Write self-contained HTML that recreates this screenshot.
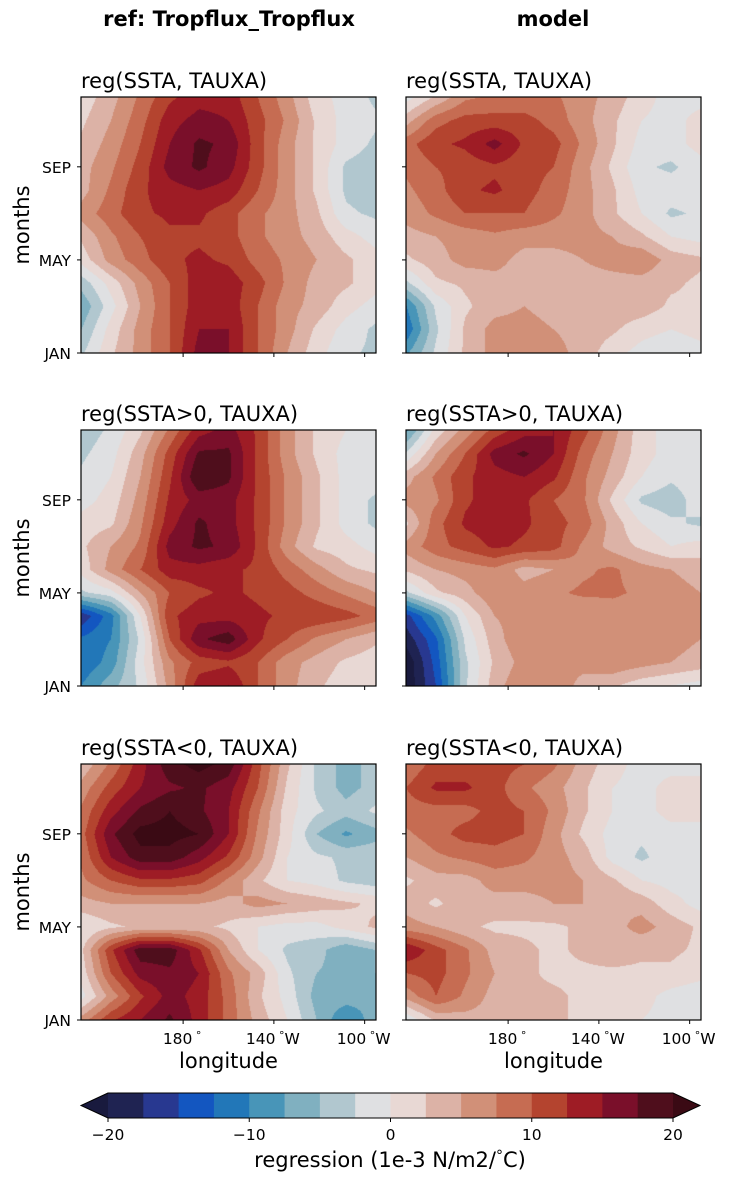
<!DOCTYPE html>
<html><head><meta charset="utf-8">
<style>
body{margin:0;background:#fff;font-family:"DejaVu Sans","Liberation Sans",sans-serif;}
#fig{position:relative;width:731px;height:1181px;overflow:hidden;background:#fff;}
canvas{position:absolute;}
</style></head><body>
<div id="fig">
<svg id="ax" width="731" height="1181" style="position:absolute;left:0;top:0;z-index:2"></svg>
</div>
<script>
const levels=[-20,-17.5,-15,-12.5,-10,-7.5,-5,-2.5,0,2.5,5,7.5,10,12.5,15,17.5,20];
const colors=["#1f2352","#283890","#1356c0","#2277b8","#4895b8","#80b0c0","#b1c7cf","#dfe0e2","#e8d8d4","#dcb2a6","#d19078","#c66c52","#b4442f","#9e1c25","#7a0f2a","#4f0e1c"];
const extLow="#191a3e", extHigh="#3a0a14";
const monthTicks=["JAN","MAY","SEP"];
const monthTickVals=[0,4,8];
const lonTicks=["180","140","100"];
const lonTickVals=[180,220,260];
const cbTicks=[-20,-10,0,10,20];
const refAll=[
[1,4,8,12,14,14,10,6,1,-1,-3],
[2,5,9,14,16,15,11,7,2,-1,-2],
[3,6,10,15,18,17,11,6,2,-1,-3],
[4,7,11,16,18,16,11,6,2,-3,-4],
[4,8,12,14,15,14,10,6,2,-3,-4],
[6,9,12,13,13,11,8,6,3,-2,-3],
[3,7,10,12,12,11,8,6,4,1,-1],
[1,6,9,12,13,12,9,7,5,3,1],
[-4,1,6,10,14,14,11,7,4,3,1],
[-7,-1,5,10,14,14,10,6,4,1,-1],
[-5,1,6,10,15,15,10,6,2,-1,-3],
[-3,2,6,10,16,15,10,5,1,-2,-3]];
const modAll=[
[-1,3,7,8,8,8,6,4,1,-1,-1],
[4,9,11,11,11,9,6,3,0,-1,1],
[9,12,13,16,12,11,7,3,-1,-1,1],
[8,10,11,12,11,10,6,2,-2,-3,-1],
[7,9,12,13,11,9,6,3,-1,-1,-1],
[6,8,10,10,10,8,6,3,0,-3,-2],
[4,5,6,7,6,6,6,5,3,0,-1],
[2,4,6,6,4,4,5,6,7,4,3],
[-3,2,3,4,4,4,4,4,4,3,2],
[-10,-2,2,4,5,4,4,4,4,2,2],
[-12,-3,3,6,6,5,4,3,1,0,1],
[-8,-2,3,6,6,6,4,1,-1,-2,-1]];
const refPos=[
[-4,-2,2,8,14,16,12,6,2,0,-1],
[-3,-1,4,11,18,18,12,6,2,-1,-1],
[-2,0,5,12,20,18,12,7,3,-1,-1],
[-1,1,6,13,16,16,12,7,3,-1,-3],
[1,2,7,14,18,16,12,7,3,-1,-3],
[2,5,8,16,18,17,12,6,2,1,-1],
[1,6,10,14,14,13,12,9,6,3,2],
[-3,-1,5,10,12,13,12,11,9,7,5],
[-17,-11,0,12,14,14,13,12,12,11,9],
[-12,-10,-2,10,17,19,13,10,7,5,3],
[-12,-9,-1,7,11,12,10,6,4,2,1],
[-10,-6,-2,6,14,15,10,6,3,1,0]];
const modPos=[
[-8,1,6,11,14,15,11,6,1,-1,-1],
[-2,5,10,16,18,15,9,5,1,-1,-1],
[4,8,12,14,15,13,8,4,0,-2,-1],
[6,7,12,14,13,10,8,2,-3,-4,-1],
[2,9,13,14,13,11,9,4,0,-2,-3],
[6,9,11,13,12,11,7,4,2,0,1],
[3,5,6,7,4,5,7,8,6,5,4],
[-3,2,4,7,6,7,8,8,7,6,5],
[-16,-9,0,5,6,6,5,6,6,6,5],
[-19,-13,-2,4,7,6,6,7,6,6,5],
[-22,-14,-3,3,6,6,6,7,6,5,4],
[-22,-15,-3,4,7,7,4,3,1,0,-1]];
const refNeg=[
[3,8,14,19,21,19,11,3,-3,-6,-4],
[6,11,15,17,18,16,10,2,-3,-6,-4],
[8,14,18,20,18,15,8,1,-2,-4,-2],
[9,17,21,21,20,15,7,1,-5,-8,-6],
[8,15,19,19,16,12,6,0,-2,-3,-3],
[7,10,12,12,11,7,3,0,-1,-3,-4],
[4,5,5,5,5,4,6,5,4,3,2],
[0,2,3,3,3,2,0,-1,-1,1,3],
[2,12,19,19,13,5,0,-3,-4,-7,-5],
[1,10,16,17,15,8,4,-2,-5,-6,-5],
[-1,6,12,16,14,9,3,-1,-6,-6,-7],
[6,12,15,18,14,9,4,0,-5,-10,-6]];
const modNeg=[
[8,11,11,11,10,8,4,1,-1,-1,-1],
[10,13,13,11,8,6,3,0,-1,1,1],
[9,9,9,11,10,7,3,0,-1,1,1],
[7,9,11,11,10,6,2,-1,-2,-1,-1],
[5,7,8,9,8,6,4,-1,-3,-1,-1],
[2,4,4,6,6,6,5,3,0,-1,-1],
[4,2,4,4,4,5,5,5,4,1,-1],
[6,5,3,2,2,2,3,4,6,4,2],
[15,11,8,4,3,2,3,4,3,3,2],
[10,11,8,5,3,2,2,2,2,2,1],
[6,10,7,4,3,3,2,1,1,-1,-2],
[-2,3,4,4,3,3,2,1,0,-1,-2]];
const grids=[refAll,modAll,refPos,modPos,refNeg,modNeg];
const titles=["reg(SSTA, TAUXA)","reg(SSTA, TAUXA)","reg(SSTA>0, TAUXA)","reg(SSTA>0, TAUXA)","reg(SSTA<0, TAUXA)","reg(SSTA<0, TAUXA)"];
const panelNames=["panel-ref-all","panel-model-all","panel-ref-pos","panel-model-pos","panel-ref-neg","panel-model-neg"];

const colX=[81,406], rowY=[97,430,764], PW=295, PH=256;
const LON0=135, LON1=265, M0=0, M1=11;
const FONT='DejaVu Sans, Liberation Sans, sans-serif';
const BIG=21, SMALL=15.5;
function xScale(px0,lon){return px0+(lon-LON0)/(LON1-LON0)*PW;}
function yScale(py0,m){return py0+PH-(m-M0)/(M1-M0)*PH;}
function colorFor(v){
  if(v<levels[0]) return extLow;
  if(v>=levels[levels.length-1]) return extHigh;
  let i=Math.floor((v-levels[0])/2.5); return colors[Math.max(0,Math.min(15,i))];
}
function hex(c){return [parseInt(c.slice(1,3),16),parseInt(c.slice(3,5),16),parseInt(c.slice(5,7),16)];}
const fig=document.getElementById('fig');
const svg=document.getElementById('ax');
const NS="http://www.w3.org/2000/svg";
function sv(tag,attrs,name){const e=document.createElementNS(NS,tag);for(const k in attrs)e.setAttribute(k,attrs[k]);
  
  
  svg.appendChild(e);return e;}
function txt(s,x,y,size,anchor,name,extra){const e=sv('text',Object.assign({x:x,y:y,'font-size':size,'text-anchor':anchor||'start','font-family':FONT,fill:'#000'},extra||{}),name);e.textContent=s;return e;}

grids.forEach((g,k)=>{
  const px0=colX[k%2], py0=rowY[Math.floor(k/2)];
  const cv=document.createElement('canvas');cv.width=PW;cv.height=PH;
  cv.style.left=px0+'px';cv.style.top=py0+'px';
  
  
  fig.appendChild(cv);
  const ctx=cv.getContext('2d');const img=ctx.createImageData(PW,PH);
  const nr=g.length,nc=g[0].length;
  for(let y=0;y<PH;y++){for(let x=0;x<PW;x++){
    const fx=x/(PW-1)*(nc-1), fy=y/(PH-1)*(nr-1);
    const c0=Math.min(nc-2,Math.floor(fx)), r0=Math.min(nr-2,Math.floor(fy));
    const tx=fx-c0, ty=fy-r0;
    const v=(g[r0][c0]*(1-tx)+g[r0][c0+1]*tx)*(1-ty)+(g[r0+1][c0]*(1-tx)+g[r0+1][c0+1]*tx)*ty;
    const c=hex(colorFor(v));const i=(y*PW+x)*4;
    img.data[i]=c[0];img.data[i+1]=c[1];img.data[i+2]=c[2];img.data[i+3]=255;}}
  ctx.putImageData(img,0,0);
  sv('rect',{x:px0,y:py0,width:PW,height:PH,fill:'none',stroke:'#000','stroke-width':1.2},panelNames[k]+'-frame');
  txt(titles[k],px0,py0-9,BIG,'start',panelNames[k]+'-title');
  monthTickVals.forEach((m,i)=>{const y=yScale(py0,m);
    sv('line',{x1:px0-4,x2:px0,y1:y,y2:y,stroke:'#000','stroke-width':1},'y-tick');
    if(k%2===0) txt(monthTicks[i],px0-10,y+6,SMALL,'end','y-tick-label');});
  lonTickVals.forEach((l,i)=>{const x=xScale(px0,l);
    sv('line',{x1:x,x2:x,y1:py0+PH,y2:py0+PH+4,stroke:'#000','stroke-width':1},'x-tick');
    if(k>=4){const lab=txt(lonTicks[i],x-1,py0+PH+24,SMALL,'middle','x-tick-label');
      const ds=document.createElementNS(NS,'tspan');ds.setAttribute('dy','-5');ds.setAttribute('font-size','11');ds.textContent=' °';lab.appendChild(ds);
      if(i>0){const w=document.createElementNS(NS,'tspan');w.setAttribute('dy','5');w.textContent='W';lab.appendChild(w);}}});
  if(k%2===0){const yc=py0+PH/2;txt('months',0,0,BIG,'middle','y-axis-title',{transform:'translate(29,'+yc+') rotate(-90)'});}
  if(k>=4) txt('longitude',px0+PW/2,py0+PH+48,BIG,'middle','x-axis-title');
});
txt('ref: Tropflux_Tropflux',229,26,BIG,'middle','column-title-ref',{'font-weight':'bold'});
txt('model',553,26,BIG,'middle','column-title-model',{'font-weight':'bold'});

const cbX0=108, cbX1=673, cbY=1093, cbH=25;
function cbScale(v){return cbX0+(v-levels[0])/(levels[16]-levels[0])*(cbX1-cbX0);}
colors.forEach((c,i)=>{sv('rect',{x:cbScale(levels[i]),y:cbY,width:cbScale(levels[i+1])-cbScale(levels[i])+0.5,height:cbH,fill:c},'colorbar-segment');});
sv('polygon',{points:`${cbX0},${cbY} 81,${cbY+cbH/2} ${cbX0},${cbY+cbH}`,fill:extLow},'colorbar-extend-low');
sv('polygon',{points:`${cbX1},${cbY} 700,${cbY+cbH/2} ${cbX1},${cbY+cbH}`,fill:extHigh},'colorbar-extend-high');
sv('polygon',{points:`${cbX0},${cbY} 81,${cbY+cbH/2} ${cbX0},${cbY+cbH} ${cbX1},${cbY+cbH} 700,${cbY+cbH/2} ${cbX1},${cbY}`,fill:'none',stroke:'#000','stroke-width':1},'colorbar-frame');
cbTicks.forEach(v=>{const x=cbScale(v);
  sv('line',{x1:x,x2:x,y1:cbY+cbH,y2:cbY+cbH+4,stroke:'#000'},'colorbar-tick');
  txt(v<0?'\u2212'+(-v):String(v),x,cbY+cbH+22,SMALL,'middle','colorbar-tick-label');});
const cl=txt('regression (1e-3 N/m2/',390,1167,BIG,'middle','colorbar-label');
const d=document.createElementNS(NS,'tspan');d.setAttribute('dy','-7');d.setAttribute('font-size','14');d.textContent='°';cl.appendChild(d);
const d2=document.createElementNS(NS,'tspan');d2.setAttribute('dy','7');d2.textContent='C)';cl.appendChild(d2);
</script>
</body></html>
